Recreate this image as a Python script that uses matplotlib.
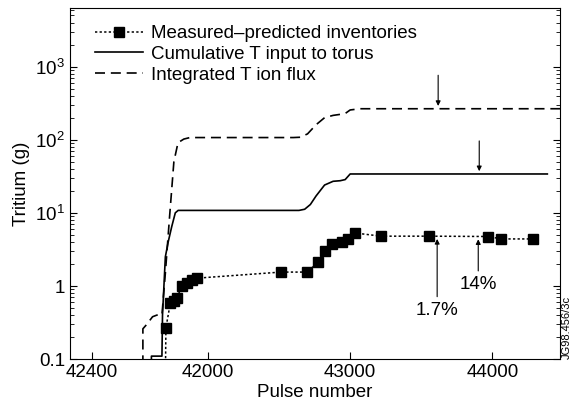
# Tritium inventory vs pulse number

import numpy as np
from matplotlib import pyplot as plt

plt.rcParams['font.family'] = 'Liberation Sans'
plt.rcParams['mathtext.fontset'] = 'custom'
plt.rcParams['mathtext.rm'] = 'Liberation Sans'
plt.rcParams['font.size'] = 13.5

# measured - predicted inventories (squares, dotted)
meas_pulse = [41700, 41704, 41735, 41760, 41780, 41817, 41852, 41887, 41923,
              42514, 42697, 42774, 42824, 42873, 42943, 42986, 43035,
              43218, 43556, 43971, 44063, 44288]
meas_T = [0.05, 0.27, 0.58, 0.62, 0.68, 1.0, 1.1, 1.2, 1.28,
          1.55, 1.55, 2.1, 3.0, 3.7, 4.0, 4.4, 5.3,
          4.8, 4.8, 4.75, 4.4, 4.4]

# cumulative T input to torus (solid)
input_pulse = [41602, 41602, 41676, 41680, 41700, 41720, 41745, 41770, 41790,
               42640, 42680, 42720, 42760, 42820, 42880, 42930, 42965, 43000, 44387]
input_T = [0.05, 0.11, 0.11, 0.4, 2.5, 4.0, 6.5, 10.0, 10.8,
           10.8, 11.2, 13.0, 17.0, 24.0, 27.0, 27.5, 28.5, 34.0, 34.0]

# integrated T ion flux (dashed)
flux_pulse = [41542, 41542, 41570, 41610, 41640, 41676, 41700, 41730, 41760,
              41789, 41830, 41873, 42600, 42648, 42700, 42760, 42820, 42880,
              42930, 42965, 43000, 43070, 44478]
flux_T = [0.05, 0.26, 0.3, 0.38, 0.4, 0.4, 1.5, 9.0, 50.0,
          91.0, 102.0, 107.0, 107.0, 108.0, 120.0, 160.0, 200.0, 215.0,
          222.0, 228.0, 255.0, 265.0, 265.0]

x_ticks = [41183, 42000, 43000, 44000]
x_labels = ['42400', '42000', '43000', '44000']
y_ticks = [0.1, 1, 10, 100, 1000]
y_labels = ['0.1', '1', '$10^1$', '$10^2$', '$10^3$']

fig = plt.figure(figsize=(5.77, 4.04), dpi=100)
ax = fig.add_axes([0.121, 0.111, 0.850, 0.869])

ax.plot(meas_pulse, meas_T, color='black', linestyle=(0, (1.5, 1.5)), linewidth=1.1,
        marker='s', markersize=6.5, markevery=list(range(1, len(meas_T))),
        label='Measured\u2013predicted inventories')
ax.plot(input_pulse, input_T, color='black', linewidth=1.2,
        label='Cumulative T input to torus')
ax.plot(flux_pulse, flux_T, color='black', linewidth=1.2, linestyle=(0, (6, 3.5)),
        label='Integrated T ion flux')

ax.set_yscale('log')
ax.set_xlim(41028, 44478)
ax.set_ylim(0.1, 6300)
ax.set_xticks(x_ticks)
ax.set_xticklabels(x_labels)
ax.set_yticks(y_ticks)
ax.set_yticklabels(y_labels)
ax.tick_params(which='both', direction='in', top=False, right=True)
ax.tick_params(which='major', length=5)
ax.tick_params(which='minor', length=3)

ax.set_xlabel('Pulse number', labelpad=2)
ax.set_ylabel('Tritium (g)', labelpad=4)

ax.legend(loc='upper left', frameon=False, handlelength=2.6, handletextpad=0.4,
          labelspacing=0.2, borderaxespad=0.5, bbox_to_anchor=(0.016, 1.0))

arrow = dict(arrowstyle='-|>', color='black', linewidth=0.8, mutation_scale=7)
ax.annotate('', xy=(43619, 265), xytext=(43619, 830), arrowprops=arrow)
ax.annotate('', xy=(43908, 34), xytext=(43908, 105), arrowprops=arrow)
ax.annotate('1.7%', xy=(43612, 4.8), xytext=(43612, 0.6), ha='center', va='top',
            arrowprops=arrow)
ax.annotate('14%', xy=(43901, 4.75), xytext=(43901, 1.35), ha='center', va='top',
            arrowprops=arrow)

fig.text(0.983, 0.19, 'JG98.456/3c', rotation=90, fontsize=8, ha='center', va='center')

plt.savefig('out.png', dpi=100)
